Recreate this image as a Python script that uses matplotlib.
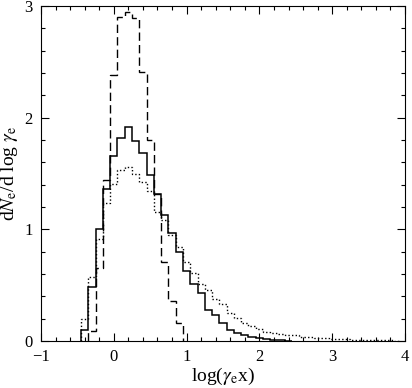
import numpy as np
import matplotlib
matplotlib.use('Agg')
import matplotlib.pyplot as plt

plt.rcParams['font.family'] = 'Liberation Serif'
plt.rcParams['mathtext.fontset'] = 'stix'
plt.rcParams['font.size'] = 12

# histogramas (ancho de bin 0.1 en log(gamma_e x))
bin_width = 0.1

solid_start = -0.45
solid_vals = [0.10, 0.48, 1.00, 1.365, 1.66, 1.815, 1.92, 1.79, 1.68, 1.49,
              1.32, 1.125, 0.97, 0.80, 0.625, 0.51, 0.43, 0.28, 0.23, 0.165,
              0.10, 0.068, 0.053, 0.035, 0.024, 0.015, 0.010, 0.006, 0.003]

dashed_start = -0.35
dashed_vals = [0.09, 0.65, 1.44, 2.38, 2.90, 2.95, 2.89, 2.41, 1.80, 1.32,
               0.71, 0.36, 0.16]

dotted_start = -0.45
dotted_vals = [0.20, 0.57, 0.91, 1.24, 1.41, 1.53, 1.56, 1.50, 1.42, 1.34,
               1.16, 1.08, 0.95, 0.84, 0.71, 0.61, 0.51, 0.46, 0.38, 0.33,
               0.25, 0.21, 0.16, 0.135, 0.11, 0.085, 0.075, 0.065, 0.058, 0.05,
               0.04, 0.035, 0.03, 0.025, 0.02, 0.017, 0.014, 0.012, 0.010, 0.008,
               0.007, 0.006, 0.005, 0.004]

x_ticks = [-1, 0, 1, 2, 3, 4]
x_ticklabels = ['\u22121', '0', '1', '2', '3', '4']
y_ticks = [0, 1, 2, 3]


def edges(start, vals):
    return start + bin_width * np.arange(len(vals) + 1)


fig = plt.figure(figsize=(4.12, 3.88), dpi=100)
ax = fig.add_axes([0.0995, 0.121, 0.8835, 0.8635])

ax.stairs(solid_vals, edges(solid_start, solid_vals), baseline=0,
          color='black', linewidth=1.1)
ax.stairs(dashed_vals, edges(dashed_start, dashed_vals), baseline=0,
          color='black', linewidth=1.0, linestyle=(0, (6, 3)))
ax.stairs(dotted_vals, edges(dotted_start, dotted_vals), baseline=0,
          color='black', linewidth=1.0, linestyle=(0, (1, 1.6)))

ax.set_xlim(-1, 4)
ax.set_ylim(0, 3)
ax.set_xticks(x_ticks)
ax.set_xticklabels(x_ticklabels)
ax.set_xticks(np.arange(-1, 4.01, 0.2), minor=True)
ax.set_yticks(y_ticks)
ax.set_yticks(np.arange(0, 3.01, 0.2), minor=True)
ax.tick_params(which='both', direction='in', top=True, right=True, width=0.8)
ax.tick_params(which='major', length=5.8, pad=6)
ax.tick_params(which='minor', length=2.9)
for s in ax.spines.values():
    s.set_linewidth(0.8)

ax.set_xlabel(r'log($\gamma_{\rm e}$x)', fontsize=14, labelpad=0)
ax.set_ylabel(r'd$N_{\rm e}$/d log $\gamma_{\rm e}$', fontsize=14, labelpad=3)

plt.savefig('out.png', dpi=100)
